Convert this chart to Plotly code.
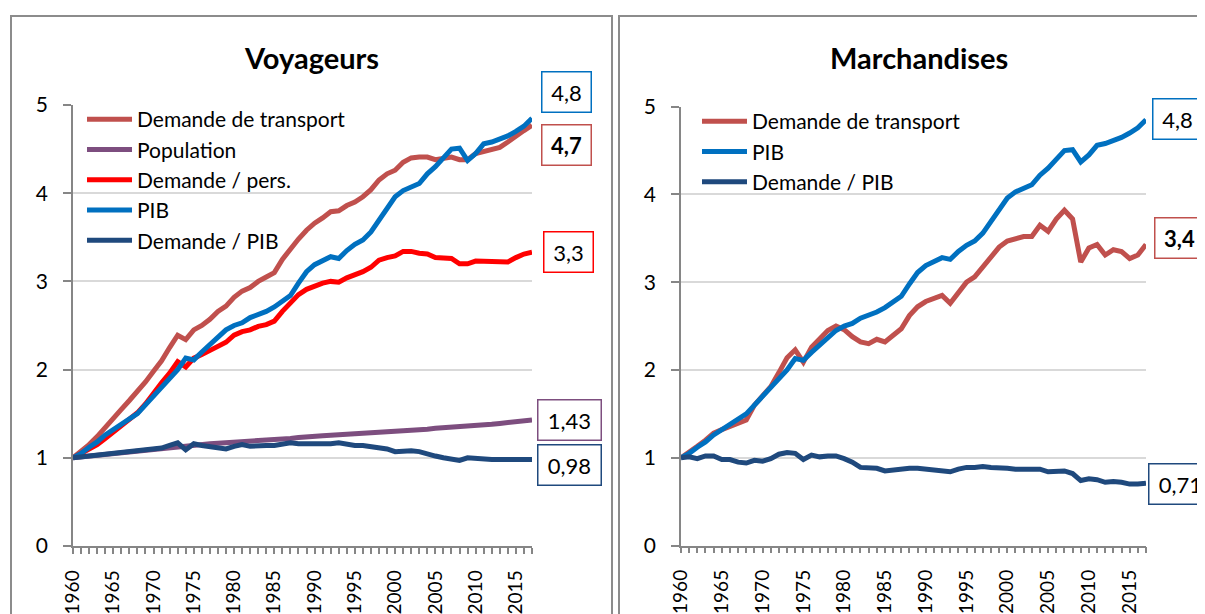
import plotly.graph_objects as go

years = list(range(1960, 2018))

# ---- Voyageurs ----
voy_demande = [1.00, 1.07, 1.15, 1.24, 1.35, 1.45, 1.55, 1.65, 1.75, 1.86,
               1.98, 2.10, 2.25, 2.39, 2.34, 2.45, 2.50, 2.57, 2.66, 2.72,
               2.82, 2.89, 2.93, 3.00, 3.05, 3.10, 3.25, 3.37, 3.48, 3.58,
               3.66, 3.72, 3.79, 3.80, 3.86, 3.90, 3.96, 4.04, 4.15, 4.22,
               4.26, 4.35, 4.40, 4.41, 4.41, 4.38, 4.40, 4.41, 4.38, 4.38,
               4.45, 4.47, 4.49, 4.52, 4.58, 4.65, 4.71, 4.77]
voy_population = [1.00, 1.01, 1.02, 1.03, 1.04, 1.05, 1.06, 1.07, 1.08, 1.09,
                  1.10, 1.11, 1.12, 1.13, 1.14, 1.15, 1.155, 1.16, 1.165, 1.17,
                  1.18, 1.185, 1.19, 1.195, 1.20, 1.21, 1.215, 1.22, 1.23, 1.24,
                  1.245, 1.25, 1.255, 1.26, 1.265, 1.27, 1.275, 1.28, 1.285, 1.29,
                  1.30, 1.305, 1.31, 1.315, 1.325, 1.335, 1.34, 1.345, 1.35, 1.36,
                  1.37, 1.375, 1.38, 1.39, 1.40, 1.41, 1.42, 1.43]
voy_demande_pers = [1.00, 1.05, 1.10, 1.15, 1.22, 1.29, 1.36, 1.43, 1.51, 1.61,
                    1.74, 1.85, 1.96, 2.09, 2.03, 2.13, 2.17, 2.22, 2.26, 2.31,
                    2.39, 2.43, 2.45, 2.49, 2.51, 2.55, 2.66, 2.76, 2.85, 2.91,
                    2.95, 2.98, 3.00, 2.99, 3.04, 3.07, 3.11, 3.16, 3.24, 3.27,
                    3.29, 3.34, 3.34, 3.32, 3.31, 3.27, 3.26, 3.26, 3.20, 3.20,
                    3.23, 3.23, 3.22, 3.22, 3.22, 3.27, 3.31, 3.33]
pib = [1.00, 1.05, 1.12, 1.18, 1.26, 1.32, 1.38, 1.44, 1.50, 1.60,
       1.70, 1.79, 1.88, 2.00, 2.13, 2.11, 2.20, 2.28, 2.36, 2.45,
       2.50, 2.53, 2.59, 2.62, 2.66, 2.71, 2.77, 2.84, 2.98, 3.11,
       3.19, 3.23, 3.28, 3.26, 3.35, 3.42, 3.47, 3.56, 3.70, 3.82,
       3.96, 4.03, 4.07, 4.11, 4.22, 4.30, 4.40, 4.50, 4.51, 4.37,
       4.45, 4.56, 4.58, 4.61, 4.65, 4.70, 4.76, 4.85]
voy_demande_pib = [1.00, 1.01, 1.01, 1.02, 1.04, 1.05, 1.06, 1.07, 1.08, 1.09,
                   1.10, 1.11, 1.14, 1.17, 1.09, 1.16, 1.14, 1.13, 1.12, 1.10,
                   1.13, 1.15, 1.13, 1.14, 1.14, 1.14, 1.16, 1.17, 1.16, 1.16,
                   1.15, 1.15, 1.16, 1.17, 1.15, 1.14, 1.14, 1.13, 1.12, 1.10,
                   1.07, 1.08, 1.08, 1.07, 1.04, 1.02, 1.00, 0.98, 0.97, 1.00,
                   0.99, 0.98, 0.98, 0.98, 0.98, 0.99, 0.99, 0.98]

# ---- Marchandises ----
mar_demande = [1.00, 1.06, 1.13, 1.20, 1.28, 1.32, 1.36, 1.39, 1.43, 1.60,
               1.70, 1.81, 1.97, 2.14, 2.23, 2.09, 2.26, 2.35, 2.45, 2.50,
               2.46, 2.38, 2.32, 2.30, 2.35, 2.32, 2.40, 2.47, 2.62, 2.72,
               2.78, 2.82, 2.85, 2.76, 2.88, 3.00, 3.06, 3.18, 3.28, 3.40,
               3.47, 3.50, 3.52, 3.52, 3.65, 3.58, 3.72, 3.82, 3.72, 3.23,
               3.39, 3.43, 3.31, 3.37, 3.35, 3.27, 3.31, 3.43]
mar_demande_pib = [1.00, 1.01, 0.99, 1.02, 1.02, 0.98, 0.98, 0.95, 0.94, 0.97,
                   0.96, 0.99, 1.04, 1.06, 1.05, 0.98, 1.03, 1.01, 1.02, 1.02,
                   0.99, 0.95, 0.89, 0.88, 0.88, 0.85, 0.86, 0.88, 0.88, 0.88,
                   0.87, 0.86, 0.86, 0.84, 0.87, 0.89, 0.89, 0.90, 0.89, 0.89,
                   0.88, 0.87, 0.87, 0.86, 0.87, 0.84, 0.85, 0.85, 0.82, 0.74,
                   0.76, 0.75, 0.72, 0.73, 0.72, 0.70, 0.70, 0.71]

panel_titles = ["Voyageurs", "Marchandises"]
series_names = ["Demande de transport", "Population", "Demande / pers.", "PIB", "Demande / PIB"]
x_tick_labels = [str(y) for y in range(1960, 2016, 5)]
y_tick_labels = ["0", "1", "2", "3", "4", "5"]
voy_end_labels = ["4,8", "4,7", "3,3", "1,43", "0,98"]
mar_end_labels = ["4,8", "3,4", "0,71"]

C_DEM = "#C0504D"
C_POP = "#7D4E7F"
C_PERS = "#FF0000"
C_PIB = "#0070C0"
C_RATIO = "#1F497D"

# The page body adds an 8px margin: size the figure so it fits the window
OFF = 8
W, H = 1205 - OFF, 614 - OFF
def fx(px): return (px - OFF) / W
def fy(py): return 1 - (py - OFF) / H

FONT = "Lato, 'Open Sans', Arial, sans-serif"
LW = 5

fig = go.Figure()
left = [(series_names[0], voy_demande, C_DEM), (series_names[1], voy_population, C_POP),
        (series_names[2], voy_demande_pers, C_PERS), (series_names[3], pib, C_PIB),
        (series_names[4], voy_demande_pib, C_RATIO)]
for name, vals, col in left:
    fig.add_trace(go.Scatter(x=years, y=vals, name=name, mode="lines",
                             line=dict(color=col, width=LW), xaxis="x", yaxis="y",
                             legend="legend"))
right = [(series_names[0], mar_demande, C_DEM), (series_names[3], pib, C_PIB),
         (series_names[4], mar_demande_pib, C_RATIO)]
for name, vals, col in right:
    fig.add_trace(go.Scatter(x=years, y=vals, name=name, mode="lines",
                             line=dict(color=col, width=LW), xaxis="x2", yaxis="y2",
                             legend="legend2"))

axis_col = "#868686"
grid_col = "#D9D9D9"

def xaxis(dom, anchor):
    return dict(domain=dom, anchor=anchor, range=[1960, 2017], tickmode="array",
                tickvals=list(range(1960, 2016, 5)), ticktext=x_tick_labels,
                tickangle=-90, ticks="outside", ticklen=6, tickcolor=axis_col, tickwidth=1.5,
                minor=dict(dtick=1, tick0=1960, ticks="outside", ticklen=6, tickcolor=axis_col, tickwidth=1.5),
                showline=True, linecolor=axis_col, linewidth=1.5, showgrid=False, zeroline=False,
                tickfont=dict(family=FONT, size=19, color="#000"), ticklabelstandoff=9,
                automargin=False, fixedrange=True)

def yaxis(dom, anchor):
    return dict(domain=dom, anchor=anchor, range=[0, 5], tickmode="array",
                tickvals=[0, 1, 2, 3, 4, 5], ticktext=y_tick_labels,
                ticks="outside", ticklen=8, tickcolor=axis_col, tickwidth=1.5,
                showline=True, linecolor=axis_col, linewidth=1.5,
                showgrid=True, gridcolor=grid_col, gridwidth=1.5, zeroline=False,
                tickfont=dict(family=FONT, size=21, color="#000"), ticklabelstandoff=11,
                automargin=False, fixedrange=True)

fig.update_layout(
    width=W, height=H, margin=dict(l=0, r=0, t=0, b=0, pad=0, autoexpand=False),
    autosize=False,
    paper_bgcolor="white", plot_bgcolor="white",
    xaxis=xaxis([fx(73), fx(532)], "y"),
    yaxis=yaxis([fy(546), fy(105)], "x"),
    xaxis2=xaxis([fx(681), fx(1146)], "y2"),
    yaxis2=yaxis([fy(545.5), fy(106.7)], "x2"),
    legend=dict(x=fx(82), y=fy(99), xanchor="left", yanchor="top", itemwidth=45,
                font=dict(family=FONT, size=21, color="#000"), bgcolor="rgba(0,0,0,0)",
                tracegroupgap=0),
    legend2=dict(x=fx(697), y=fy(101), xanchor="left", yanchor="top", itemwidth=45,
                 font=dict(family=FONT, size=21, color="#000"), bgcolor="rgba(0,0,0,0)",
                 tracegroupgap=0),
    showlegend=True,
)

# panel borders
fig.add_shape(type="rect", xref="paper", yref="paper", x0=fx(11), x1=fx(612), y0=-0.1, y1=fy(16),
              line=dict(color="#8C8C8C", width=2), layer="below")
fig.add_shape(type="rect", xref="paper", yref="paper", x0=fx(619), x1=fx(1260), y0=-0.1, y1=fy(16),
              line=dict(color="#8C8C8C", width=2), layer="below")

# titles
for t, cx in zip(panel_titles, [311, 919]):
    fig.add_annotation(text="<b>%s</b>" % t, xref="paper", yref="paper",
                       x=fx(cx), y=fy(57), xanchor="center", yanchor="middle", showarrow=False,
                       font=dict(family=FONT, size=29, color="#000"))

def endbox(text, cx, cy, col, bold=False, w=40):
    t = "<b>%s</b>" % text if bold else text
    fig.add_annotation(text=t, xref="paper", yref="paper", x=fx(cx), y=fy(cy),
                       xanchor="center", yanchor="middle", showarrow=False,
                       width=w, height=31, align="center", valign="middle",
                       bordercolor=col, borderwidth=1.5, borderpad=4, bgcolor="white",
                       font=dict(family=FONT, size=22, color="#000"))

endbox(voy_end_labels[0], 566, 92, C_PIB)
endbox(voy_end_labels[1], 566, 145, C_DEM, bold=True)
endbox(voy_end_labels[2], 568, 252, C_PERS)
endbox(voy_end_labels[3], 569.5, 419.5, C_POP, w=54)
endbox(voy_end_labels[4], 569.5, 464.5, C_RATIO, w=54)
endbox(mar_end_labels[0], 1177, 118.5, C_PIB)
endbox(mar_end_labels[1], 1179, 238.5, C_DEM, bold=True)
endbox(mar_end_labels[2], 1180.5, 483.5, C_RATIO, w=54)

fig.write_html("out.html")
